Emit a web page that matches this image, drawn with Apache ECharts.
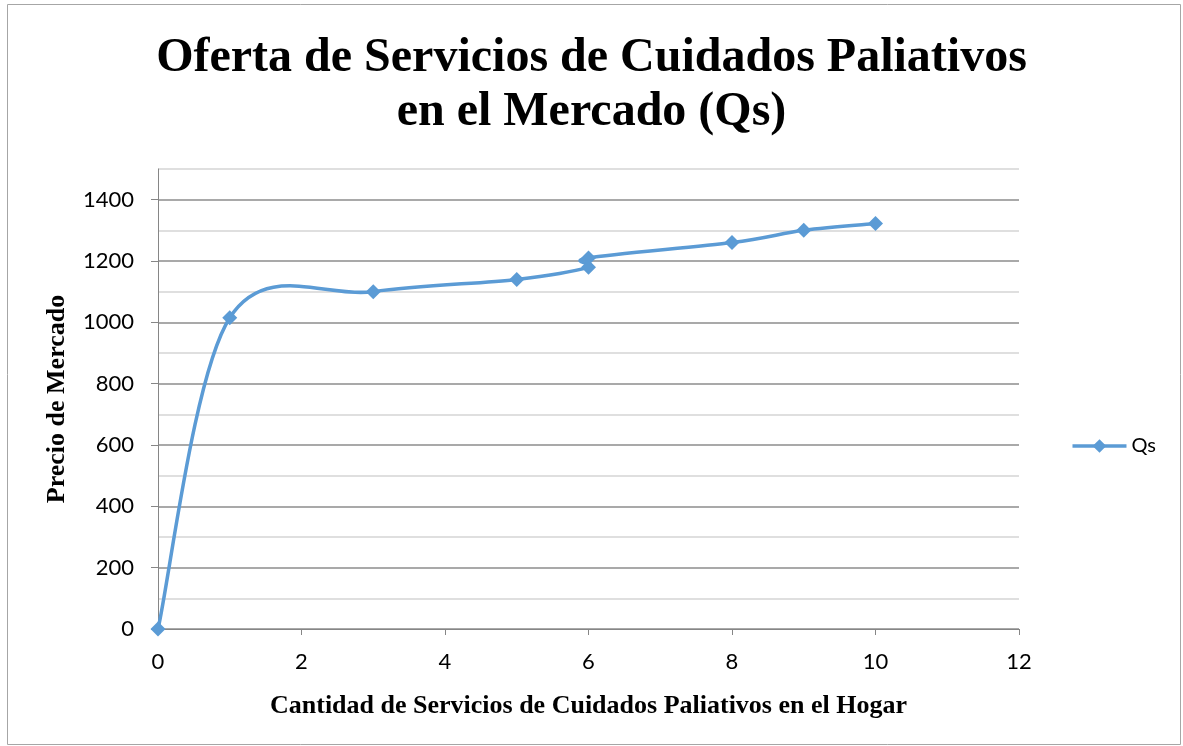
<!DOCTYPE html>
<html style="height:100%;width:100%;">
<head>
  <meta charset="utf-8">
  <title>Oferta de Servicios de Cuidados Paliativos</title>
  <script src="https://cdn.jsdelivr.net/npm/echarts@6/dist/echarts.min.js"></script>
</head>
<body style="margin:0px;height:100%;width:100%;background:#fff;">
  <div id="main" style="width:1183px;height:746px"></div>
  <script type="text/javascript">
    // datos
    var cantidad = [0, 1, 3, 5, 6, 6, 8, 9, 10];
    var precio = [0, 1015, 1100, 1140, 1180, 1210, 1260, 1300, 1322];
    var xTicks = [0, 2, 4, 6, 8, 10, 12];
    var yTicks = [0, 200, 400, 600, 800, 1000, 1200, 1400];

    var puntos = [];
    for (var i = 0; i < cantidad.length; i++) {
      puntos.push([cantidad[i], precio[i]]);
    }

    var azul = '#5b9bd5';
    var myChart = echarts.init(document.getElementById("main"));
    var serif = '"Liberation Serif", "Times New Roman", serif';
    var sans = 'Lato, "Liberation Sans", sans-serif';

    // curva suavizada tipo Excel (Catmull-Rom), un tramo por punto
    function tramo(params, api) {
      var i = params.dataIndex;
      if (i === 0) return null;
      var n = puntos.length;
      var p0 = api.coord(puntos[Math.max(i - 2, 0)]);
      var p1 = api.coord(puntos[i - 1]);
      var p2 = api.coord(puntos[i]);
      var p3 = api.coord(puntos[Math.min(i + 1, n - 1)]);
      return {
        type: 'bezierCurve',
        shape: {
          x1: p1[0], y1: p1[1],
          x2: p2[0], y2: p2[1],
          cpx1: p1[0] + (p2[0] - p0[0]) / 6,
          cpy1: p1[1] + (p2[1] - p0[1]) / 6,
          cpx2: p2[0] - (p3[0] - p1[0]) / 6,
          cpy2: p2[1] - (p3[1] - p1[1]) / 6
        },
        style: { fill: 'none', stroke: azul, lineWidth: 3.5 }
      };
    }

    var option = {
      animation: false,
      title: {
        text: 'Oferta de Servicios de Cuidados Paliativos\nen el Mercado (Qs)',
        left: 'center',
        top: 27,
        textStyle: {
          fontFamily: serif,
          fontWeight: 'bold',
          fontSize: 48,
          lineHeight: 54,
          color: '#000'
        }
      },
      legend: {
        data: [{
          name: 'Qs',
          lineStyle: { color: azul, width: 3.5, opacity: 1 }
        }],
        right: 22,
        top: 431,
        itemWidth: 54,
        itemHeight: 17,
        textStyle: { fontFamily: sans, fontSize: 20, color: '#000' }
      },
      graphic: [{
        type: 'rect',
        shape: { x: 7.5, y: 4.5, width: 1173, height: 740 },
        style: { fill: 'none', stroke: '#a6a6a6', lineWidth: 1 },
        silent: true
      }],
      grid: { left: 158, right: 164, top: 169, bottom: 117 },
      xAxis: {
        type: 'value',
        min: xTicks[0],
        max: xTicks[xTicks.length - 1],
        interval: 2,
        name: 'Cantidad de Servicios de Cuidados Paliativos en el Hogar',
        nameLocation: 'middle',
        nameGap: 64,
        nameTextStyle: { fontFamily: serif, fontWeight: 'bold', fontSize: 26, color: '#000' },
        axisLine: { lineStyle: { color: '#868686', width: 1 } },
        axisTick: { show: true, inside: false, length: 6, lineStyle: { color: '#868686' } },
        axisLabel: { fontFamily: sans, fontSize: 22, color: '#000', margin: 22 },
        splitLine: { show: false }
      },
      yAxis: [{
        // lineas de division mayores y menores
        type: 'value',
        min: 0,
        max: 1500,
        interval: 100,
        axisLine: { show: true, lineStyle: { color: '#868686', width: 1 } },
        axisTick: { show: false },
        axisLabel: { show: false },
        splitLine: { show: true, lineStyle: { color: ['#8c8c8c', '#d4d4d4'], width: 1.5 } }
      }, {
        type: 'value',
        position: 'left',
        min: yTicks[0],
        max: 1500,
        interval: 200,
        name: 'Precio de Mercado',
        nameLocation: 'middle',
        nameGap: 88,
        nameTextStyle: { fontFamily: serif, fontWeight: 'bold', fontSize: 26, color: '#000' },
        axisLine: { show: false },
        axisTick: { show: true, inside: false, length: 7, lineStyle: { color: '#868686' } },
        axisLabel: {
          fontFamily: sans, fontSize: 22, color: '#000', margin: 24, showMaxLabel: false,
          formatter: function (v) { return String(v); }
        },
        splitLine: { show: false }
      }],
      series: [{
        name: 'QsCurva',
        type: 'custom',
        renderItem: tramo,
        data: puntos,
        silent: true,
        z: 1
      }, {
        name: 'Qs',
        type: 'line',
        yAxisIndex: 0,
        data: puntos,
        symbol: 'diamond',
        symbolSize: 15,
        itemStyle: { color: azul },
        lineStyle: { color: azul, width: 3.5, opacity: 0 },
        z: 3
      }]
    };

    myChart.setOption(option);
  </script>
</body>
</html>
